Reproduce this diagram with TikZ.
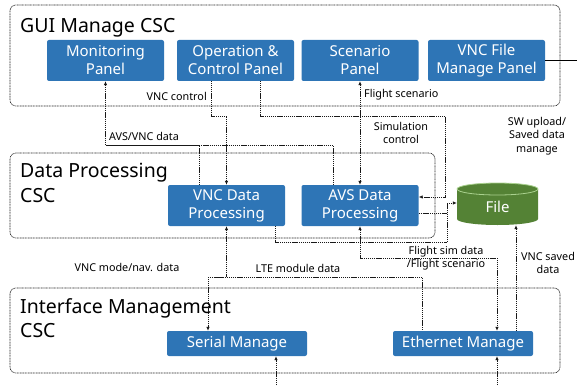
\documentclass[tikz,border=0pt]{standalone}
\usepackage{fontspec}
\usepackage{tikz}
\setmainfont{Noto Sans}
\usetikzlibrary{arrows.meta,calc}
\definecolor{boxblue}{RGB}{46,117,182}
\definecolor{filegreen}{RGB}{84,130,53}
\definecolor{filerim}{RGB}{169,209,142}

\begin{document}
\begin{tikzpicture}[x=1pt, y=-1pt, >={Latex[length=4pt,width=3.5pt]}, % 1px = 1pt、y軸は下向き
  frame/.style={draw=black!85, line width=0.65pt, dash pattern=on 1pt off 0.6pt, rounded corners=6pt},
  title/.style={anchor=north west, inner sep=0pt, align=left, font=\fontsize{19.5}{24.5}\selectfont},
  panel/.style={fill=boxblue, text=white, rounded corners=2pt, inner sep=0pt, align=center,
    minimum width=117pt, minimum height=41pt, font=\fontsize{15}{18}\selectfont},
  iface/.style={panel, minimum width=140pt, minimum height=25pt},
  link/.style={draw=black!90, line width=0.7pt, dash pattern=on 1.2pt off 0.7pt},
  lbl/.style={inner sep=0pt, align=center, font=\fontsize{10.8}{13.5}\selectfont}]
  \useasboundingbox (0,0) rectangle (577,385); % 余白込みの大きさ

  \draw[frame] (10,5) rectangle (560,106); % GUI枠
  \draw[frame] (10,153) rectangle (435,238); % データ処理枠
  \draw[frame] (10,288) rectangle (560,373); % インタフェース枠
  \node[title] (guit) at (20,18) {GUI Manage CSC};
  \node[title] (dpt) at (20,163) {Data Processing\\CSC};
  \node[title] (ift) at (20,298) {Interface Management\\CSC};

  \node[panel] (mon) at (105.5,60.5) {Monitoring\\Panel};
  \node[panel] (opc) at (235.5,60.5) {Operation \&\\Control Panel};
  \node[panel] (scn) at (360,60.5) {Scenario\\Panel};
  \node[panel] (vfm) at (486.5,60.5) {VNC File\\Manage Panel};
  \node[panel] (vdp) at (226.5,205.5) {VNC Data\\Processing};
  \node[panel] (adp) at (360,205.5) {AVS Data\\Processing};
  \node[iface] (ser) at (237,343.5) {Serial Manage};
  \node[iface] (eth) at (463,343.5) {Ethernet Manage};

  % ファイル（円柱）
  \fill[filegreen] (457,189) -- (457,219) arc[start angle=180, end angle=360, x radius=40.5pt, y radius=6pt]
    -- (538,189) arc[start angle=0, end angle=180, x radius=40.5pt, y radius=6pt] -- cycle;
  \draw[filerim, line width=0.8pt] (497.5,189) ellipse[x radius=40.5pt, y radius=6pt];
  \node[inner sep=0pt, minimum width=81pt, minimum height=36pt, text=white, font=\fontsize{15}{18}\selectfont] (file) at (497.5,207) {File};

  % ラベル
  \node[lbl, anchor=east] (vncctl) at (207,96) {VNC control};
  \node[lbl] (avsvnc) at (144,136) {AVS/VNC data};
  \node[lbl, anchor=west] (fltscn) at (364,95) {Flight scenario};
  \node[lbl] (simctl) at (401,133) {Simulation\\control};
  \node[lbl] (swup) at (537,136) {SW upload/\\Saved data\\manage};
  \node[lbl] (vncmode) at (127,267) {VNC mode/nav. data};
  \node[lbl] (ltemod) at (298,268) {LTE module data};
  \node[lbl] (fltsim) at (446,258) {Flight sim data\\/Flight scenario};
  \node[lbl] (vncsav) at (548,263) {VNC saved\\data};

  \coordinate (avj) at (mon.south |- 0,145); % AVS/VNC data
  \draw[link] ([xshift=-27.5pt]vdp.north) |- (avj);
  \draw[link] ([xshift=-27pt]adp.north) |- (avj);
  \draw[link,->] (avj) -- (mon.south);

  \draw[link,->] ([xshift=-24.5pt]opc.south) |- (vdp.north |- 0,116) -- (vdp.north); % VNC control
  \coordinate (scj) at (445,116); % Simulation control
  \draw[link,->] ([xshift=24.5pt]opc.south) |- (scj) |- ([yshift=8.5pt]adp.east);
  \draw[link,<->] (scn.south) -- (adp.north); % Flight scenario

  \coordinate (fj) at (447,203); % ファイルへ
  \draw[link] ([yshift=-7.5pt]adp.east) -| (fj);
  \draw[link] ([xshift=48.5pt]vdp.south) |- (447,242) -- (fj);
  \draw[link,->] (fj) -- (fj -| file.west);

  \coordinate (bj) at (208,277); % VNC mode / LTE
  \draw[link,<-] (vdp.south) |- (bj);
  \draw[link,->] (bj) -- (bj |- ser.north);
  \draw[link] (bj) -| ([xshift=-41pt]eth.north);

  \coordinate (ef) at ([xshift=34pt]eth.north); % Flight sim data
  \draw[link,<->] (adp.south) |- (ef |- 0,258) -- (ef);
  \coordinate (ev) at ([xshift=53pt]eth.north); % VNC saved data
  \draw[link,->] (ev) -- (ev |- file.south);

  \coordinate (swj) at (577,60.5); % SW upload
  \draw[line width=0.6pt] (vfm.east) -- (swj);
  \coordinate (sa) at ([xshift=39pt]ser.south); % 外部入力
  \coordinate (ea) at ([xshift=34pt]eth.south);
  \draw[link,->] (sa |- 0,385) -- (sa);
  \draw[link,->] (ea |- 0,385) -- (ea);
\end{tikzpicture}
\end{document}
